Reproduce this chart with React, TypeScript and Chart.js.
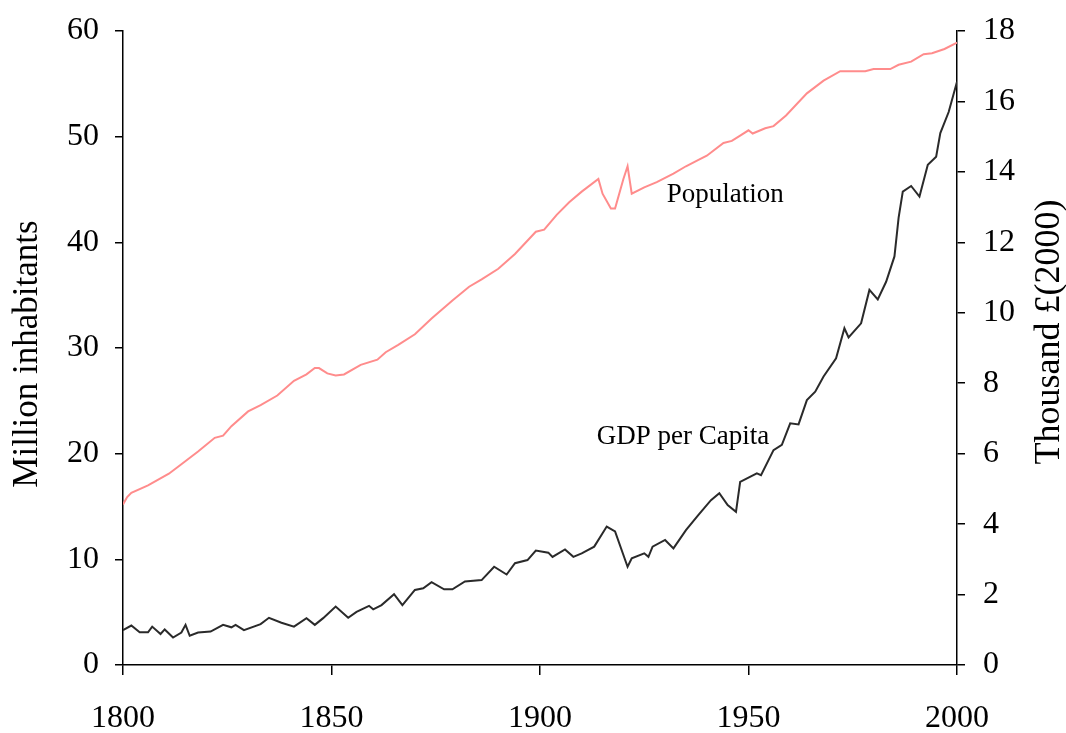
import React, { useEffect, useRef } from "react";
import { Chart, registerables } from "chart.js";

Chart.register(...registerables);

// Population, million inhabitants (left axis)
const popYears = [1800, 1801, 1802, 1806, 1811, 1814, 1818, 1822, 1824, 1826, 1830, 1833, 1837, 1841, 1844, 1846, 1847, 1849, 1851, 1853, 1857, 1861, 1863, 1866, 1870, 1874, 1879, 1883, 1886, 1890, 1894, 1899, 1901, 1904, 1907, 1910, 1914, 1915, 1917, 1918, 1920, 1921, 1922, 1925, 1928, 1932, 1935, 1938, 1940, 1944, 1946, 1948, 1950, 1951, 1954, 1956, 1959, 1964, 1968, 1972, 1978, 1980, 1984, 1986, 1989, 1992, 1994, 1997, 2000];
const popValues = [15.2, 15.9, 16.3, 17.0, 18.1, 19.0, 20.2, 21.5, 21.7, 22.6, 24.0, 24.6, 25.5, 26.9, 27.5, 28.1, 28.1, 27.6, 27.4, 27.5, 28.4, 28.9, 29.6, 30.3, 31.3, 32.8, 34.5, 35.8, 36.5, 37.5, 38.9, 41.0, 41.2, 42.6, 43.8, 44.8, 46.0, 44.6, 43.2, 43.2, 46.0, 47.2, 44.6, 45.2, 45.7, 46.5, 47.2, 47.8, 48.2, 49.4, 49.6, 50.1, 50.6, 50.3, 50.8, 51.0, 52.0, 54.1, 55.3, 56.2, 56.2, 56.4, 56.4, 56.8, 57.1, 57.8, 57.9, 58.3, 58.9];

// GDP per capita, thousand £(2000) (right axis)
const gdpYears = [1800, 1802, 1804, 1806, 1807, 1809, 1810, 1812, 1814, 1815, 1816, 1818, 1821, 1824, 1826, 1827, 1829, 1833, 1835, 1838, 1841, 1844, 1846, 1848, 1851, 1854, 1856, 1859, 1860, 1862, 1865, 1867, 1870, 1872, 1874, 1877, 1879, 1882, 1886, 1889, 1892, 1894, 1897, 1899, 1902, 1903, 1906, 1908, 1910, 1913, 1915, 1916, 1918, 1921, 1922, 1925, 1926, 1927, 1930, 1932, 1935, 1938, 1941, 1943, 1945, 1947, 1948, 1952, 1953, 1956, 1958, 1960, 1962, 1964, 1966, 1968, 1971, 1973, 1974, 1977, 1979, 1981, 1983, 1985, 1986, 1987, 1989, 1991, 1993, 1995, 1996, 1998, 2000];
const gdpValues = [0.99, 1.12, 0.93, 0.93, 1.09, 0.88, 1.01, 0.78, 0.92, 1.14, 0.83, 0.92, 0.95, 1.14, 1.07, 1.14, 0.99, 1.16, 1.34, 1.20, 1.09, 1.33, 1.14, 1.33, 1.66, 1.34, 1.51, 1.68, 1.58, 1.70, 2.01, 1.70, 2.13, 2.18, 2.35, 2.15, 2.15, 2.37, 2.41, 2.79, 2.57, 2.89, 2.98, 3.25, 3.19, 3.07, 3.28, 3.07, 3.17, 3.36, 3.74, 3.93, 3.79, 2.79, 3.03, 3.17, 3.07, 3.36, 3.55, 3.31, 3.83, 4.26, 4.68, 4.88, 4.54, 4.35, 5.20, 5.44, 5.39, 6.10, 6.25, 6.86, 6.83, 7.52, 7.76, 8.19, 8.71, 9.56, 9.30, 9.70, 10.65, 10.38, 10.88, 11.6, 12.7, 13.44, 13.6, 13.3, 14.2, 14.43, 15.1, 15.7, 16.56];

const xTickValues = [1800, 1850, 1900, 1950, 2000];
const leftTickValues = [0, 10, 20, 30, 40, 50, 60];
const rightTickValues = [0, 2, 4, 6, 8, 10, 12, 14, 16, 18];

const leftTitle = "Million inhabitants";
const rightTitle = "Thousand £(2000)";

// annotation labels: text, year, value, axis
const labelTexts = ["Population", "GDP per Capita"];
const labelYears = [1944.4, 1934.3];
const labelValues = [44.5, 6.47];
const labelAxes = ["yL", "yR"];

const FONT = "'Liberation Serif', 'Times New Roman', serif";

const textPlugin = {
  id: "textPlugin",
  afterDraw(chart: any) {
    const ctx = chart.ctx;
    const xs = chart.scales.x;
    ctx.save();
    ctx.fillStyle = "#000";
    ctx.textAlign = "center";
    ctx.textBaseline = "middle";
    ctx.font = `27px ${FONT}`;
    labelTexts.forEach((t, i) => {
      const px = xs.getPixelForValue(labelYears[i]);
      const py = chart.scales[labelAxes[i]].getPixelForValue(labelValues[i]);
      ctx.fillText(t, px, py);
    });
    ctx.font = `35px ${FONT}`;
    ctx.save();
    ctx.translate(28, 354);
    ctx.rotate(-Math.PI / 2);
    ctx.fillText(leftTitle, 0, 0);
    ctx.restore();
    ctx.font = `36px ${FONT}`;
    ctx.save();
    ctx.translate(1050, 332);
    ctx.rotate(-Math.PI / 2);
    ctx.fillText(rightTitle, 0, 0);
    ctx.restore();
    ctx.restore();
  },
};

export default function App() {
  const ref = useRef<HTMLCanvasElement | null>(null);
  useEffect(() => {
    if (!ref.current) return;
    const tickFont = { family: FONT, size: 32 };
    const chart = new Chart(ref.current, {
      type: "line",
      data: {
        datasets: [
          {
            label: "Population",
            data: popYears.map((y, i) => ({ x: y, y: popValues[i] })),
            borderColor: "#ff8c8c",
            borderWidth: 2,
            pointRadius: 0,
            tension: 0,
            yAxisID: "yL",
          },
          {
            label: "GDP per Capita",
            data: gdpYears.map((y, i) => ({ x: y, y: gdpValues[i] })),
            borderColor: "#2a2a2a",
            borderWidth: 2,
            pointRadius: 0,
            tension: 0,
            yAxisID: "yR",
          },
        ],
      },
      options: {
        animation: false,
        responsive: true,
        maintainAspectRatio: false,
        layout: { padding: { top: 31, left: 0, right: 0, bottom: 0 } },
        plugins: { legend: { display: false }, tooltip: { enabled: false } },
        scales: {
          x: {
            type: "linear",
            min: 1800,
            max: 2000,
            afterBuildTicks: (s: any) => {
              s.ticks = xTickValues.map((v) => ({ value: v }));
            },
            afterFit: (s: any) => {
              s.height = 68;
            },
            ticks: {
              color: "#000",
              font: tickFont,
              padding: 24,
              maxRotation: 0,
              autoSkip: false,
              callback: (v: any) => String(v),
            },
            grid: { drawOnChartArea: false, tickLength: 10, color: "#000", lineWidth: 1.5 },
            border: { display: true, color: "#000", width: 1.5 },
          },
          yL: {
            type: "linear",
            position: "left",
            min: 0,
            max: 60,
            afterBuildTicks: (s: any) => {
              s.ticks = leftTickValues.map((v) => ({ value: v }));
            },
            afterFit: (s: any) => {
              s.width = 123;
              s.paddingTop = 0;
              s.paddingBottom = 0;
            },
            ticks: { color: "#000", font: tickFont, padding: 16, callback: (v: any) => String(v) },
            grid: { drawOnChartArea: false, tickLength: 8, color: "#000", lineWidth: 1.5 },
            border: { display: true, color: "#000", width: 1.5 },
          },
          yR: {
            type: "linear",
            position: "right",
            min: 0,
            max: 18,
            afterBuildTicks: (s: any) => {
              s.ticks = rightTickValues.map((v) => ({ value: v }));
            },
            afterFit: (s: any) => {
              s.width = 109;
              s.paddingTop = 0;
              s.paddingBottom = 0;
            },
            ticks: { color: "#000", font: tickFont, padding: 18, callback: (v: any) => String(v) },
            grid: { drawOnChartArea: false, tickLength: 8, color: "#000", lineWidth: 1.5 },
            border: { display: true, color: "#000", width: 1.5 },
          },
        },
      },
      plugins: [textPlugin],
    } as any);
    return () => chart.destroy();
  }, []);
  return (
    <div style={{ position: "fixed", left: 0, top: 0, width: 1066, height: 733, background: "#fff" }}>
      <canvas ref={ref} />
    </div>
  );
}
